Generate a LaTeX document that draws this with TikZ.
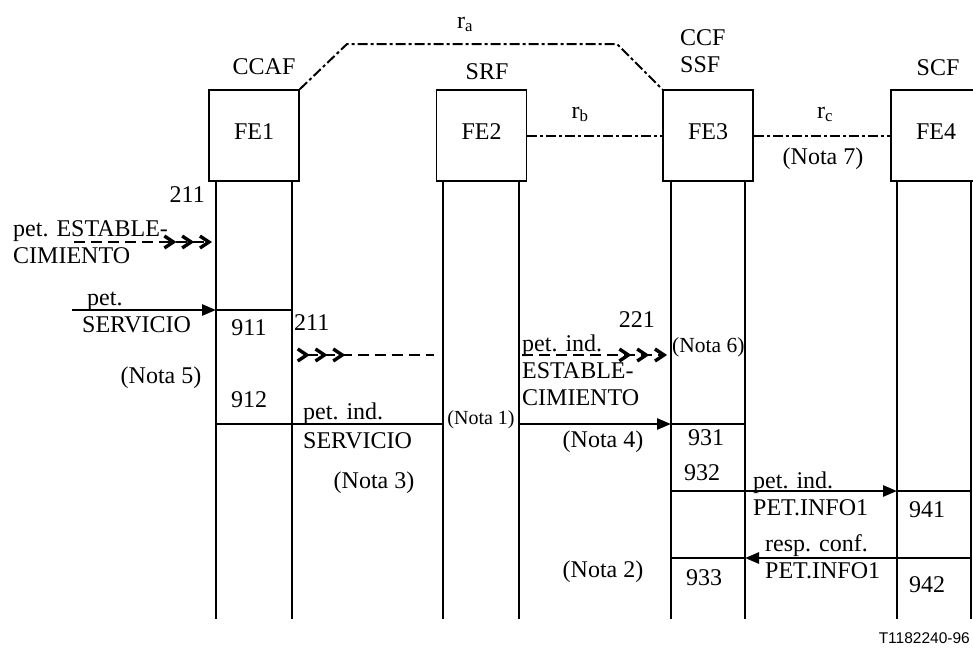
\documentclass[tikz,border=0pt]{standalone}
\usepackage{fontspec}
\setmainfont{Liberation Serif}
\newfontfamily\codefont{Liberation Sans}
\usetikzlibrary{arrows.meta}

\tikzset{chev/.tip={Straight Barb[length=9pt,width=12pt,line width=3.4pt,sep=4pt]}}

\begin{document}
\begin{tikzpicture}[x=1pt,y=-1pt,
        every node/.style={inner sep=0pt,font=\fontsize{24}{27}\selectfont},
        fe/.style={draw,line width=1.7pt,minimum width=90pt,minimum height=91pt,text height=16pt,text depth=9pt},
        life/.style={line width=2.7pt},
        msg/.style={line width=2.7pt},
        msgarrow/.style={-{Triangle[length=14pt,width=11pt]}},
        refline/.style={line width=2pt,dash pattern=on 10pt off 3pt on 3pt off 3pt},
        cont/.style={line width=2.5pt,dash pattern=on 11pt off 6pt},
        small/.style={font=\fontsize{20}{24}\selectfont}]
        \useasboundingbox (0,0) rectangle (973,648);
        \clip (0,0) rectangle (973,648);

        \node[fe] (fe1) at (254,135.5) {FE1};
        \node[fe] (fe2) at (481.5,135.5) {FE2};
        \node[fe] (fe3) at (708,135.5) {FE3};
        \node[fe] (fe4) at (936,135.5) {FE4};

        \node[anchor=base] (ccaf) at (264,74) {CCAF};
        \node[anchor=base] (srf) at (487,79) {SRF};
        \node[anchor=base west,align=left] (ccf) at (680,72) {CCF\\SSF};
        \node[anchor=base] (scf) at (938,75) {SCF};

        \foreach \b/\l/\r in {fe1/216/292,fe2/443/519,fe3/671/745,fe4/897/971} {
            \coordinate (\b-l) at (\l,619);
            \coordinate (\b-r) at (\r,619);
            \draw[life] (\b.south -| \b-l) -- (\b-l);
            \draw[life] (\b.south -| \b-r) -- (\b-r);
        }

        \coordinate (ra1) at (347,44);
        \coordinate (ra2) at (617,44);
        \draw[refline] (fe1.north east) -- (ra1) -- (ra2) -- (fe3.north west);
        \draw[refline] (fe2.east) -- (fe3.west);
        \draw[refline] (fe3.east) -- (fe4.west);
        \node[anchor=base] (ra) at (465,28) {r\textsubscript{a}};
        \node[anchor=base] (rb) at (580,118) {r\textsubscript{b}};
        \node[anchor=base] (rc) at (825,118) {r\textsubscript{c}};
        \node[anchor=base] (nota7) at (823,164) {(Nota 7)};

        \coordinate (est) at (74,242);
        \coordinate (serv) at (72,310);
        \coordinate (cont1) at (434,355);
        \coordinate (est2) at (522,355);
        \coordinate (sv2) at (0,424);
        \coordinate (info) at (0,491);
        \coordinate (resp) at (0,558);

        \draw[cont,-{chev[]chev[]chev[]}] (est) -- (est -| fe1-l);
        \draw[msg,msgarrow] (serv) -- (serv -| fe1-l);
        \draw[msg] (serv -| fe1-l) -- (serv -| fe1-r);
        \draw[cont,{chev[reversed]chev[reversed]chev[reversed]}-] (cont1 -| fe1-r) -- (cont1);
        \draw[cont,-{chev[]chev[]chev[]}] (est2) -- (est2 -| fe3-l);
        \draw[msg] (sv2 -| fe1-l) -- (sv2 -| fe2-l);
        \draw[msg,msgarrow] (sv2 -| fe2-r) -- (sv2 -| fe3-l);
        \draw[msg] (sv2 -| fe3-l) -- (sv2 -| fe3-r);
        \draw[msg,msgarrow] (info -| fe3-l) -- (info -| fe4-l);
        \draw[msg] (info -| fe4-l) -- (info -| fe4-r);
        \draw[msg,msgarrow] (resp -| fe4-r) -- (resp -| fe3-r);
        \draw[msg] (resp -| fe3-r) -- (resp -| fe3-l);

        \node[anchor=base east] (n211a) at (205,202) {211};
        \node[anchor=base west,align=left] (petest) at (13,263) {pet. ESTABLE-\\CIMIENTO};
        \node[anchor=base west,align=left] (petserv) at (82,332) {\hspace*{5pt}pet.\\SERVICIO};
        \node[anchor=base] (n911) at (249,335) {911};
        \node[anchor=base west] (n211b) at (294,330) {211};
        \node[anchor=base] (nota5) at (161,383) {(Nota 5)};
        \node[anchor=base] (n912) at (249,407) {912};
        \node[anchor=base west,align=left] (petindserv) at (303,448) {pet. ind.\\[2pt]SERVICIO};
        \node[anchor=base] (nota3) at (374,488) {(Nota 3)};
        \node[anchor=base,small] (nota1) at (481,424) {(Nota 1)};
        \node[anchor=base east] (n221) at (655,327) {221};
        \node[anchor=base west,align=left] (petindest) at (522,405) {pet. ind.\\ESTABLE-\\CIMIENTO};
        \node[anchor=base west,font=\fontsize{21.5}{25}\selectfont] (nota6) at (672,352) {(Nota 6)};
        \node[anchor=base] (nota4) at (603,447) {(Nota 4)};
        \node[anchor=base] (n931) at (706,445) {931};
        \node[anchor=base] (n932) at (702,480) {932};
        \node[anchor=base west,align=left] (petinfo) at (753,515) {pet. ind.\\PET.INFO1};
        \node[anchor=base] (n941) at (927,517) {941};
        \node[anchor=base west,align=left] (respconf) at (765,578) {resp. conf.\\PET.INFO1};
        \node[anchor=base] (n933) at (704,585) {933};
        \node[anchor=base] (nota2) at (603,577) {(Nota 2)};
        \node[anchor=base] (n942) at (927,592) {942};
        \node[anchor=base east,font=\codefont\fontsize{15.5}{18}\selectfont] (code) at (970,643) {T1182240-96};
    \end{tikzpicture}
\end{document}
